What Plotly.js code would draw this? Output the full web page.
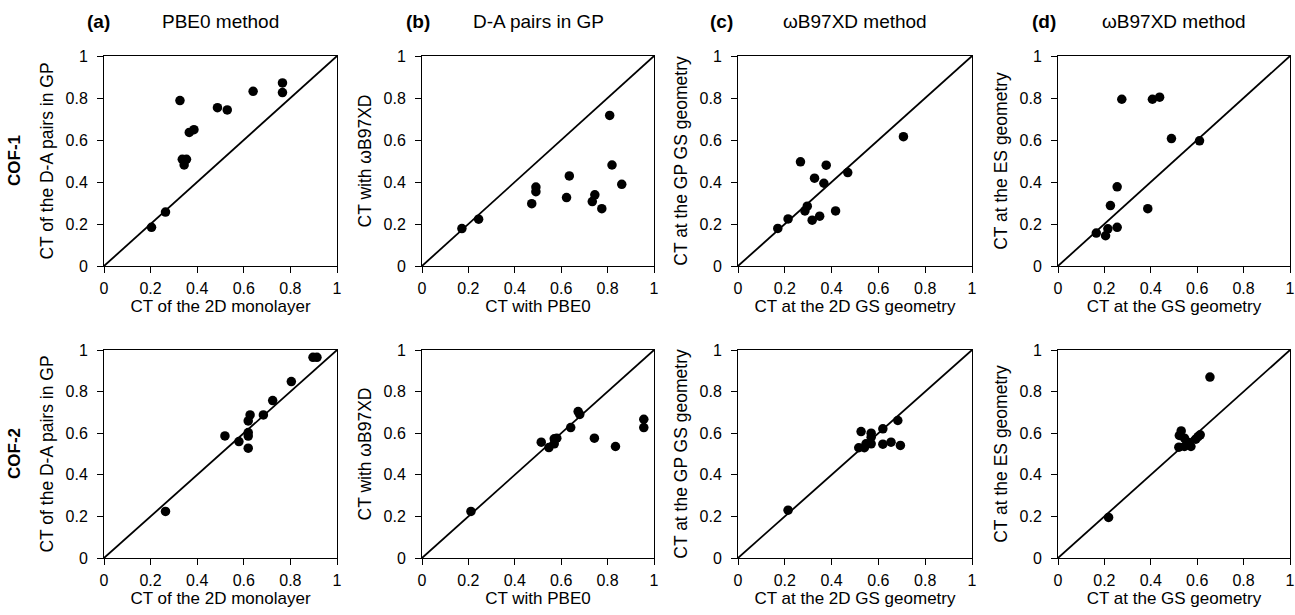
<!DOCTYPE html>
<html>
<head>
<meta charset="utf-8">
<script src="https://cdn.plot.ly/plotly-3.0.1.min.js"></script>
<style>html,body{margin:0;padding:0;background:#fff;}#chart{width:1295px;height:615px;}</style>
</head>
<body>
<div id="chart"></div>
<script>
// ---- data ----
const tickVals = [0, 0.2, 0.4, 0.6, 0.8, 1];
const tickText = ['0', '0.2', '0.4', '0.6', '0.8', '1'];
const diag = [0, 1];

// COF-1 (top row)
const cof1_a_x = [0.204, 0.264, 0.326, 0.336, 0.354, 0.344, 0.366, 0.386, 0.487, 0.529, 0.640, 0.766, 0.766];
const cof1_a_y = [0.184, 0.257, 0.788, 0.508, 0.508, 0.481, 0.636, 0.649, 0.754, 0.743, 0.832, 0.872, 0.826];
const cof1_b_x = [0.172, 0.244, 0.473, 0.491, 0.491, 0.623, 0.635, 0.734, 0.745, 0.775, 0.809, 0.819, 0.861];
const cof1_b_y = [0.178, 0.223, 0.297, 0.376, 0.354, 0.326, 0.429, 0.307, 0.339, 0.273, 0.717, 0.481, 0.389];
const cof1_c_x = [0.170, 0.214, 0.267, 0.286, 0.296, 0.317, 0.327, 0.349, 0.367, 0.377, 0.417, 0.469, 0.707];
const cof1_c_y = [0.179, 0.224, 0.496, 0.262, 0.285, 0.218, 0.418, 0.237, 0.394, 0.480, 0.262, 0.445, 0.616];
const cof1_d_x = [0.165, 0.205, 0.215, 0.226, 0.255, 0.255, 0.275, 0.387, 0.407, 0.438, 0.489, 0.610];
const cof1_d_y = [0.157, 0.144, 0.177, 0.288, 0.184, 0.377, 0.794, 0.273, 0.794, 0.804, 0.607, 0.596];

// COF-2 (bottom row)
const cof2_a_x = [0.264, 0.519, 0.579, 0.619, 0.619, 0.619, 0.619, 0.627, 0.684, 0.724, 0.804, 0.897, 0.914];
const cof2_a_y = [0.224, 0.587, 0.560, 0.603, 0.586, 0.528, 0.659, 0.688, 0.688, 0.757, 0.848, 0.965, 0.965];
const cof2_b_x = [0.211, 0.514, 0.547, 0.570, 0.570, 0.581, 0.641, 0.673, 0.680, 0.743, 0.834, 0.956, 0.956];
const cof2_b_y = [0.224, 0.557, 0.531, 0.549, 0.573, 0.576, 0.627, 0.704, 0.690, 0.576, 0.536, 0.667, 0.627];
const cof2_c_x = [0.214, 0.516, 0.526, 0.540, 0.547, 0.569, 0.569, 0.569, 0.619, 0.619, 0.654, 0.683, 0.694];
const cof2_c_y = [0.230, 0.530, 0.608, 0.530, 0.549, 0.549, 0.600, 0.581, 0.547, 0.621, 0.557, 0.661, 0.541];
const cof2_d_x = [0.218, 0.521, 0.531, 0.523, 0.545, 0.545, 0.559, 0.573, 0.594, 0.604, 0.613, 0.655];
const cof2_d_y = [0.195, 0.533, 0.611, 0.589, 0.576, 0.536, 0.557, 0.536, 0.571, 0.584, 0.592, 0.870];

const xTitles = ['CT of the 2D monolayer', 'CT with PBE0', 'CT at the 2D GS geometry', 'CT at the GS geometry'];
const yTitles = ['CT of the D-A pairs in GP', 'CT with ωB97XD', 'CT at the GP GS geometry', 'CT at the ES geometry'];
const panelLetters = ['(a)', '(b)', '(c)', '(d)'];
const panelTitles = ['PBE0 method', 'D-A pairs in GP', 'ωB97XD method', 'ωB97XD method'];
const rowLabels = ['COF-1', 'COF-2'];

// ---- layout geometry ----
const W = 1295, H = 615;
const colPx = [[104, 337], [422, 654], [738, 972], [1058, 1290]];
const rowPx = [[56, 266], [350, 558]];
const letterX = [99, 418, 722, 1044];
const FONT = 'Arial, "Liberation Sans", sans-serif';

const series = [
  [cof1_a_x, cof1_a_y], [cof1_b_x, cof1_b_y], [cof1_c_x, cof1_c_y], [cof1_d_x, cof1_d_y],
  [cof2_a_x, cof2_a_y], [cof2_b_x, cof2_b_y], [cof2_c_x, cof2_c_y], [cof2_d_x, cof2_d_y]
];

const traces = [];
const layout = {
  width: W, height: H,
  margin: {l: 0, r: 0, t: 0, b: 0},
  paper_bgcolor: '#fff', plot_bgcolor: '#fff',
  showlegend: false,
  font: {family: FONT, color: '#000', size: 16},
  annotations: []
};

for (let i = 0; i < 8; i++) {
  const row = Math.floor(i / 4), col = i % 4;
  const n = i + 1;
  const xa = 'x' + (n === 1 ? '' : n), ya = 'y' + (n === 1 ? '' : n);
  traces.push({x: diag, y: diag, xaxis: xa, yaxis: ya, mode: 'lines', type: 'scatter',
    line: {color: '#000', width: 1.8}, hoverinfo: 'skip'});
  traces.push({x: series[i][0], y: series[i][1], xaxis: xa, yaxis: ya, mode: 'markers', type: 'scatter',
    marker: {color: '#000', size: 9.5}, cliponaxis: false});
  const axCommon = {
    range: [0, 1], tickvals: tickVals, ticktext: tickText,
    ticks: 'outside', ticklen: 6, tickwidth: 1, tickcolor: '#000',
    showline: true, mirror: true, linecolor: '#000', linewidth: 1,
    showgrid: false, zeroline: false, fixedrange: true,
    tickfont: {family: FONT, size: 16, color: '#000'}
  };
  layout['xaxis' + (n === 1 ? '' : n)] = Object.assign({}, axCommon, {
    domain: [colPx[col][0] / W, colPx[col][1] / W],
    anchor: ya, ticklabelstandoff: 2,
    title: {text: xTitles[col], font: {family: FONT, size: 17, color: '#000'}, standoff: 3}
  });
  layout['yaxis' + (n === 1 ? '' : n)] = Object.assign({}, axCommon, {
    domain: [1 - rowPx[row][1] / H, 1 - rowPx[row][0] / H],
    anchor: xa, ticklabelstandoff: 6,
    title: {text: yTitles[col], font: {family: FONT, size: 17.5, color: '#000'}, standoff: 7}
  });
}

for (let c = 0; c < 4; c++) {
  layout.annotations.push({xref: 'paper', yref: 'paper', x: letterX[c] / W, y: 1 - 21 / H,
    text: '<b>' + panelLetters[c] + '</b>', showarrow: false, xanchor: 'center', yanchor: 'middle',
    font: {family: FONT, size: 19, color: '#000'}});
  layout.annotations.push({xref: 'paper', yref: 'paper', x: (colPx[c][0] + colPx[c][1]) / 2 / W, y: 1 - 21 / H,
    text: panelTitles[c], showarrow: false, xanchor: 'center', yanchor: 'middle',
    font: {family: FONT, size: 19, color: '#000'}});
}
for (let r = 0; r < 2; r++) {
  layout.annotations.push({xref: 'paper', yref: 'paper', x: 15 / W,
    y: 1 - (rowPx[r][0] + rowPx[r][1]) / 2 / H,
    text: '<b>' + rowLabels[r] + '</b>', showarrow: false, textangle: -90,
    xanchor: 'center', yanchor: 'middle', font: {family: FONT, size: 17, color: '#000'}});
}

Plotly.newPlot('chart', traces, layout, {staticPlot: true, displayModeBar: false});
</script>
</body>
</html>
